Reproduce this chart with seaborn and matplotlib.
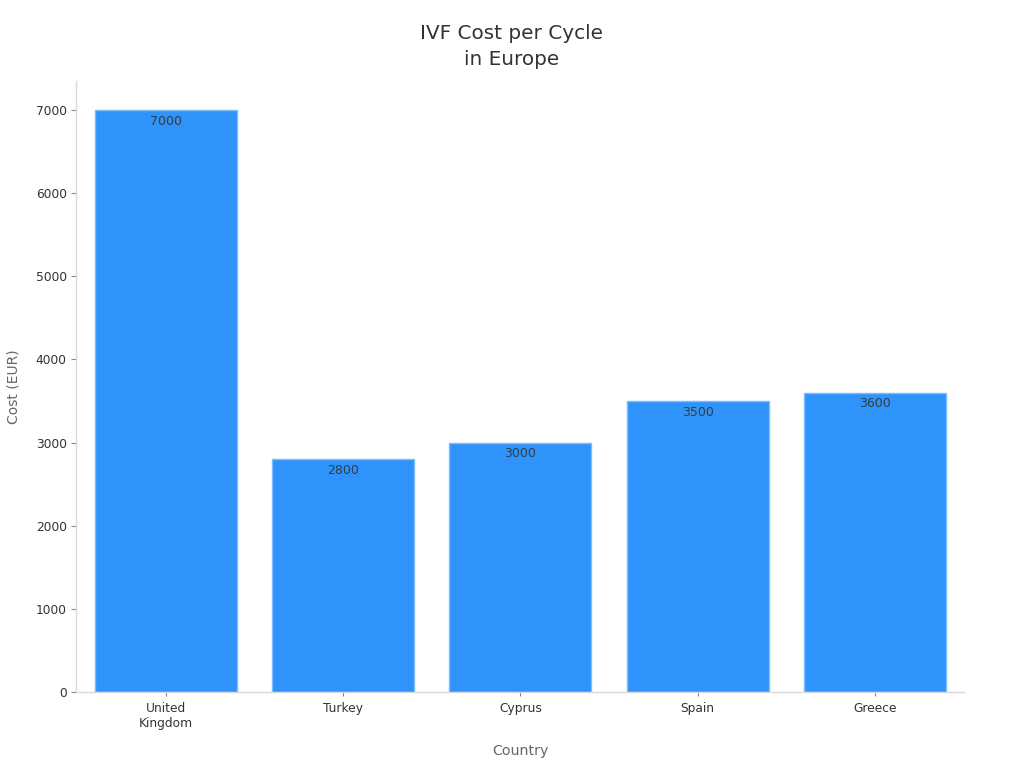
import matplotlib
matplotlib.use("Agg")
import matplotlib.pyplot as plt
import seaborn as sns
import pandas as pd

countries = ["United\nKingdom", "Turkey", "Cyprus", "Spain", "Greece"]
costs = [7000, 2800, 3000, 3500, 3600]

sns.set_theme(style="ticks")
plt.rcParams['font.family'] = ['DejaVu Sans']

df = pd.DataFrame({"Country": countries, "Cost": costs})

fig = plt.figure(figsize=(10.24, 7.68), dpi=100)
ax = fig.add_axes([76 / 1024, 1 - 692 / 768, 888 / 1024, 611 / 768])

sns.barplot(data=df, x="Country", y="Cost", color="#2e93fa", saturation=1,
            width=0.8, edgecolor="#7dbcfb", linewidth=1, ax=ax)

# labels sit just inside the top of each bar
for bar, val in zip(ax.patches, costs):
    ax.annotate(str(val), (bar.get_x() + bar.get_width() / 2, val),
                xytext=(0, -7), textcoords="offset points", ha="center", va="center_baseline",
                fontsize=9, color="#373d3f")

ax.set_xlim(-0.506, 4.502)
ax.set_ylim(0, 7350)
ax.set_yticks(range(0, 8000, 1000))

sns.despine(ax=ax)
for side in ["left", "bottom"]:
    ax.spines[side].set_color("#d9d9d9")
    ax.spines[side].set_linewidth(1)

ax.tick_params(axis="x", labelsize=8.8, length=3, width=0.8, color="#888888", labelcolor="#333333", pad=4)
ax.tick_params(axis="y", labelsize=8.8, length=3.6, width=0.8, color="#888888", labelcolor="#333333", pad=3)

ax.set_xlabel("Country", fontsize=10.2, color="#666666", labelpad=10)
ax.set_ylabel("Cost (EUR)", fontsize=10, color="#666666", labelpad=11)
fig.suptitle("IVF Cost per Cycle\nin Europe", x=512 / 1024, y=1 - 24 / 768, va="top",
             fontsize=14.4, color="#333333", linespacing=1.45)

fig.savefig("out.png", dpi=100)
